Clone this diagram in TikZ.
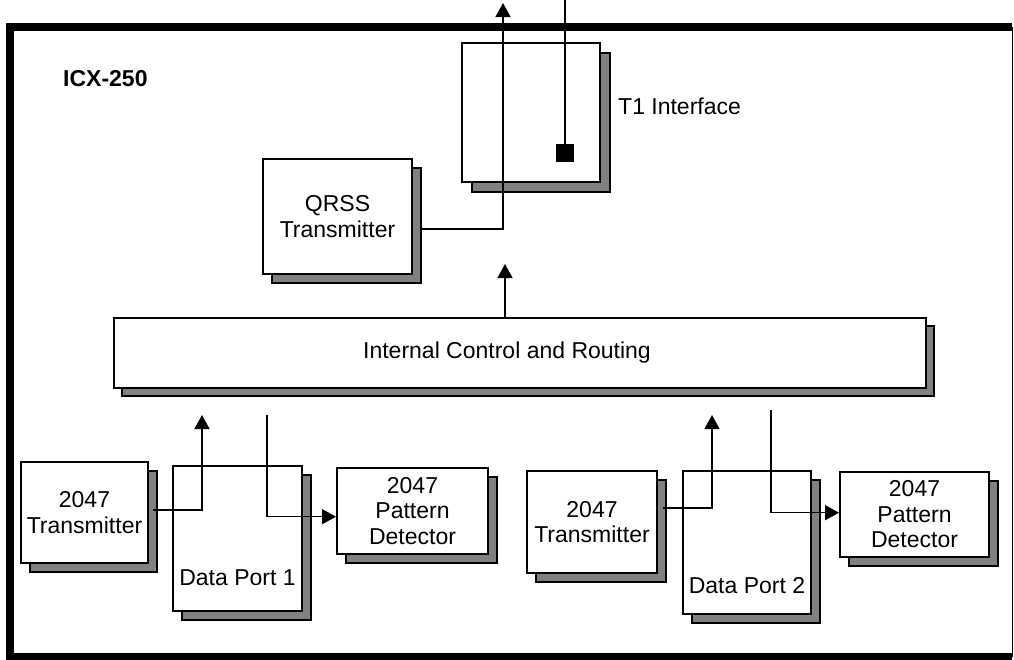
\documentclass[tikz,border=0pt]{standalone}
\usepackage{fontspec}
\setmainfont{Liberation Sans}
\usetikzlibrary{arrows.meta,shadows}

\begin{document}
\begin{tikzpicture}[x=1pt,y=-1pt,
    font=\fontsize{23}{25.5}\selectfont,
    unit/.style={draw,fill=white,line width=2pt,inner sep=0pt,align=center,
      general shadow={fill=black!50,draw=black,line width=2pt,
        shadow xshift=#1,shadow yshift=-#1}},
    unit/.default=9pt,
    wire/.style={line width=1.5pt},
    tip/.style={-{Triangle[length=14pt,width=15pt]}}]
  \useasboundingbox (0,0) rectangle (1014,659);
  % outer frame
  \draw[line width=8pt] (1012,27)--(10,27)--(10,657)--(1012,657);
  \draw[line width=1.5pt] (1012.5,27)--(1012.5,657);
  \node[anchor=west,inner sep=0pt,font=\fontsize{23}{25.5}\selectfont\bfseries]
    (model) at (63,79) {ICX-250};
  % T1 side
  \node[unit=10pt,minimum width=138pt,minimum height=139pt] (t1) at (531,112.5) {};
  \node[fill,inner sep=0pt,minimum size=18pt] (t1sq) at (565,153) {};
  \node[anchor=west,inner sep=0pt] (t1lbl) at (618,106) {T1 Interface};
  \node[unit,minimum width=149pt,minimum height=115pt] (qrss) at (337.5,216.5)
    {QRSS\\Transmitter};
  \node[unit=8pt,minimum width=812pt,minimum height=70pt,
    label={[xshift=-13pt]center:Internal Control and Routing}] (ctrl) at (520,353) {};
  % port 1
  \node[unit,minimum width=127pt,minimum height=101pt] (txa) at (84.5,512.5)
    {2047\\Transmitter};
  \node[unit,minimum width=129pt,minimum height=145pt,
    label={[anchor=south,inner sep=0pt,yshift=26pt]south:Data Port 1}]
    (porta) at (237.5,538.5) {};
  \node[unit,minimum width=151pt,minimum height=86pt] (deta) at (412.5,511)
    {2047\\Pattern\\Detector};
  % port 2
  \node[unit,minimum width=130pt,minimum height=102pt] (txb) at (592,522)
    {2047\\Transmitter};
  \node[unit,minimum width=128pt,minimum height=143pt,
    label={[anchor=south,inner sep=0pt,yshift=21pt]south:Data Port 2}]
    (portb) at (747,542.5) {};
  \node[unit,minimum width=149pt,minimum height=85pt] (detb) at (914.5,514.5)
    {2047\\Pattern\\Detector};
  % wires
  \coordinate (t1out) at (503,3);
  \coordinate (t1in) at (565,0);
  \draw[wire,tip] ([xshift=9pt,yshift=-12.5pt]qrss.east) -| (t1out);
  \draw[wire] (t1in) -- (t1sq);
  \coordinate (ctrlup) at (505,264);
  \draw[wire,tip] (ctrl.north -| ctrlup) -- (ctrlup);
  \coordinate (aup) at (202,415);
  \coordinate (adown) at (267,415);
  \draw[wire,tip] ([xshift=4pt,yshift=2.5pt]txa.east) -| (aup);
  \draw[wire,tip] (adown) |- ([yshift=-5.7pt]deta.west);
  \coordinate (bup) at (712,415);
  \coordinate (bdown) at (771,410);
  \draw[wire,tip] ([xshift=5pt,yshift=14pt]txb.east) -| (bup);
  \draw[wire,tip] (bdown) |- ([yshift=1.8pt]detb.west);
\end{tikzpicture}
\end{document}
